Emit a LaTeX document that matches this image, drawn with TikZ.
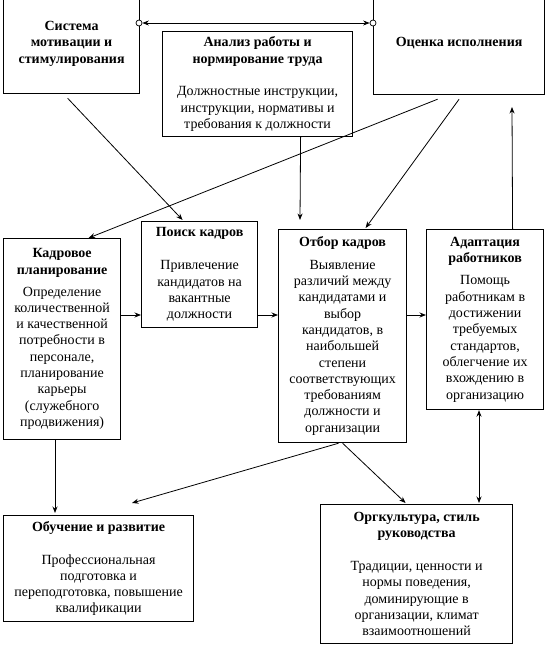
\documentclass[tikz,border=0pt]{standalone}
\usepackage{fontspec}
\setmainfont{Liberation Serif}
\usetikzlibrary{arrows.meta}
\begin{document}
\begin{tikzpicture}[x=1pt,y=-1pt,
  box/.style={draw, line width=1.2pt, inner sep=2pt, align=center, anchor=north west,
    font=\fontsize{14}{16.3}\selectfont},
  arr/.style={line width=0.8pt, -{Stealth[length=6.5pt,width=5pt]}},
  arrb/.style={line width=0.8pt, {Stealth[length=6.5pt,width=5pt]}-{Stealth[length=6.5pt,width=5pt]}},
  dot/.style={circle, draw, fill=white, inner sep=0pt, minimum size=6pt, line width=0.7pt}]
\useasboundingbox (0,0) rectangle (547,645);
\clip (0,0) rectangle (547,645);
\fill[white] (0,0) rectangle (547,645);

% boxes
\node[box, minimum width=136pt, minimum height=100pt] (sys) at (3,-7)
  {\textbf{Система}\\\textbf{мотивации и}\\\textbf{стимулирования}};
\node[box, minimum width=171pt, minimum height=104pt] (ots) at (373,-10)
  {\textbf{Оценка исполнения}};
\node[box, minimum width=190pt, minimum height=105pt] (an) at (162,31)
  {\textbf{Анализ работы и}\\\textbf{нормирование труда}\\[16.5pt]
   Должностные инструкции,\\инструкции, нормативы и\\требования к должности};
\node[box, minimum width=117pt, minimum height=201pt] (kp) at (3,238)
  {\textbf{Кадровое}\\\textbf{планирование}\\[5.5pt]
   Определение\\количественной\\и качественной\\потребности в\\персонале,\\планирование\\карьеры\\(служебного\\продвижения)};
\node[box, minimum width=116pt, minimum height=106pt] (po) at (141,221)
  {\textbf{Поиск кадров}\\[16.5pt]
   Привлечение\\кандидатов на\\вакантные\\должности};
\node[box, minimum width=128pt, minimum height=213pt] (ot) at (278,229)
  {\textbf{Отбор кадров}\\[6pt]
   Выявление\\различий между\\кандидатами и\\выбор\\кандидатов, в\\наибольшей\\степени\\соответствующих\\требованиям\\должности и\\организации};
\node[box, minimum width=117pt, minimum height=180pt] (ad) at (426,229)
  {\textbf{Адаптация}\\\textbf{работников}\\[6pt]
   Помощь\\работникам в\\достижении\\требуемых\\стандартов,\\облегчение их\\вхождению в\\организацию};
\node[box, minimum width=190pt, minimum height=106pt] (ob) at (3,515)
  {\textbf{Обучение и развитие}\\[16.5pt]
   Профессиональная\\подготовка и\\переподготовка, повышение\\квалификации};
\node[box, minimum width=192pt, minimum height=139pt] (org) at (320,504)
  {\textbf{Оргкультура, стиль}\\\textbf{руководства}\\[16.5pt]
   Традиции, ценности и\\нормы поведения,\\доминирующие в\\организации, климат\\взаимоотношений};

% top link
\node[dot] (c1) at (139,23) {};
\node[dot] (c2) at (373,23) {};
\draw[arrb] (c1) -- (c2);

% free ends
\coordinate (dEnd) at (300,220);
\coordinate (eEnd) at (512,107);
\coordinate (jEnd) at (132,503);

% connectors
\draw[arr] ([xshift=-4pt,yshift=-4pt]sys.south) -- ([xshift=-17pt,yshift=1pt]po.north);
\draw[arr] ([xshift=-21.5pt,yshift=-4pt]ots.south) -- ([xshift=26.5pt]kp.north);
\draw[arr] ([yshift=-4pt]ots.south) -- ([xshift=23pt,yshift=1pt]ot.north);
\draw[arr] ([xshift=43pt]an.south) -- (dEnd);
\draw[arr] ([xshift=27.5pt]ad.north) -- (eEnd);
\draw[arr] (kp.east |- 0,315) -- (po.west |- 0,315);
\draw[arr] (po.east |- 0,315) -- (ot.west |- 0,315);
\draw[arr] (ot.east |- 0,315) -- (ad.west |- 0,315);
\draw[arr] (kp.south -| 55,0) -- ([yshift=2pt]ob.north -| 55,0);
\draw[arr] ([xshift=-4pt]ot.south) -- (jEnd);
\draw[arr] (ot.south) -- ([xshift=-11pt,yshift=1pt]org.north);
\draw[arrb] (ad.south -| 479,0) -- ([yshift=1pt]org.north -| 479,0);
\end{tikzpicture}
\end{document}
